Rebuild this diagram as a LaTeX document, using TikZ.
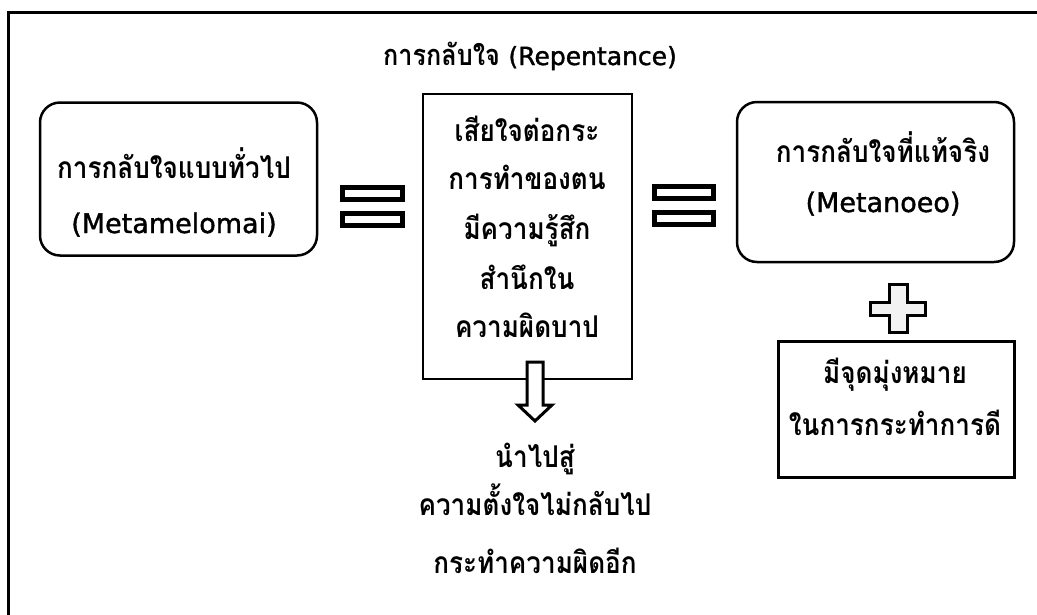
\documentclass[tikz,border=0pt]{standalone}
\usepackage{fontspec}
\newfontfamily\thaifont[Script=Thai, FakeStretch=0.87]{Loma}
\newfontfamily\latfont[FakeBold=1.4]{DejaVu Sans}
\newcommand\lat[1]{{\latfont\mdseries\fontsize{27}{30}\selectfont #1}}
\newcommand\lattitle[1]{{\latfont\mdseries\fontsize{25}{28}\selectfont #1}}
\begin{document}
\begin{tikzpicture}[x=1pt,y=-1pt,
  txt/.style={font=\thaifont\bfseries\fontsize{30}{32}\selectfont, inner sep=0pt, anchor=base},
  titletxt/.style={font=\thaifont\bfseries\fontsize{29}{31}\selectfont, inner sep=0pt, anchor=base},
  roundbox/.style={draw, line width=2.5pt, rounded corners=20pt, inner sep=0pt},
  plainbox/.style={draw, line width=2pt, inner sep=0pt},
  eqbar/.style={draw, line width=5pt, fill=white},
  hollow/.style={draw, line width=3pt, line join=miter},
]
\useasboundingbox (0,0) rectangle (1037,614);
\clip (0,0) rectangle (1037,614);
% frame
\draw[line width=3pt] (8,640) -- (8,12) -- (1060,12);
% title
\node[titletxt] (title) at (530,65) {การกลับใจ \lattitle{(Repentance)}};
% left box
\node[roundbox, minimum width=277pt, minimum height=153pt] (lbox) at (178.5,179) {};
\node[txt] (l1) at (174,178) {การกลับใจแบบทั่วไป};
\node[txt] (l2) at (174,233) {\lat{(Metamelomai)}};
% left equals
\draw[eqbar] (342.5,187.5) rectangle (402.5,199.5);
\draw[eqbar] (342.5,213.5) rectangle (402.5,225.5);
% middle box
\node[plainbox, minimum width=209pt, minimum height=285pt] (mbox) at (527.5,236.5) {};
\node[txt] (m1) at (527,141) {เสียใจต่อกระ};
\node[txt] (m2) at (527,189) {การทำของตน};
\node[txt] (m3) at (527,239) {มีความรู้สึก};
\node[txt] (m4) at (527,289) {สำนึกใน};
\node[txt] (m5) at (527,337) {ความผิดบาป};
% down arrow
\draw[hollow, fill=white] (527,362) -- (543,362) -- (543,405) -- (552,405) -- (535,421) -- (518,405) -- (527,405) -- cycle;
% bottom text
\node[txt] (b1) at (535,467) {นำไปสู่};
\node[txt] (b2) at (535,515) {ความตั้งใจไม่กลับไป};
\node[txt] (b3) at (535,573) {กระทำความผิดอีก};
% right equals
\draw[eqbar] (654.5,186.5) rectangle (713.5,198.5);
\draw[eqbar] (654.5,212.5) rectangle (713.5,224.5);
% right box
\node[roundbox, minimum width=277pt, minimum height=160pt] (rbox) at (875.5,182) {};
\node[txt] (r1) at (883,162) {การกลับใจที่แท้จริง};
\node[txt] (r2) at (883,212) {\lat{(Metanoeo)}};
% plus
\draw[hollow, fill=black!5] (889,284.5) -- (907,284.5) -- (907,302.5) -- (925.5,302.5) -- (925.5,315.5) -- (907,315.5) -- (907,332.5) -- (889,332.5) -- (889,315.5) -- (870.5,315.5) -- (870.5,302.5) -- (889,302.5) -- cycle;
% bottom right box
\node[plainbox, line width=3pt, minimum width=236pt, minimum height=136pt] (brbox) at (896,409) {};
\node[txt] (br1) at (895,383) {มีจุดมุ่งหมาย};
\node[txt] (br2) at (895,435) {ในการกระทำการดี};
\end{tikzpicture}
\end{document}
